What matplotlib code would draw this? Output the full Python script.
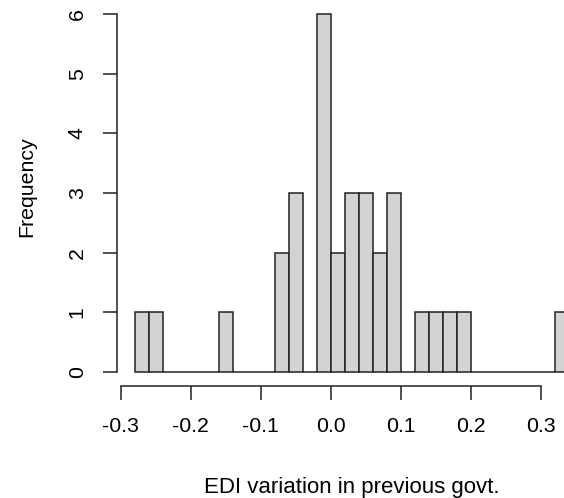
import matplotlib
matplotlib.use("Agg")
from matplotlib import pyplot as plt

# histogram of EDI variation, bins of width 0.02
bin_left = [-0.28, -0.26, -0.24, -0.22, -0.20, -0.18, -0.16, -0.14, -0.12, -0.10,
            -0.08, -0.06, -0.04, -0.02, 0.00, 0.02, 0.04, 0.06, 0.08, 0.10,
            0.12, 0.14, 0.16, 0.18, 0.20, 0.22, 0.24, 0.26, 0.28, 0.30, 0.32]
counts = [1, 1, 0, 0, 0, 0, 1, 0, 0, 0,
          2, 3, 0, 6, 2, 3, 3, 2, 3, 0,
          1, 1, 1, 1, 0, 0, 0, 0, 0, 0, 1]
bin_width = 0.02

x_ticks = [-0.3, -0.2, -0.1, 0.0, 0.1, 0.2, 0.3]
x_tick_labels = ["-0.3", "-0.2", "-0.1", "0.0", "0.1", "0.2", "0.3"]
y_ticks = [0, 1, 2, 3, 4, 5, 6]

plt.rcParams["font.family"] = ["Liberation Sans", "DejaVu Sans"]

fig = plt.figure(figsize=(5.64, 4.98), dpi=100)
ax = fig.add_axes([0.208, 0.2239, 0.831, 0.7767])

ax.bar(bin_left, counts, width=bin_width, align="edge",
       color="#d3d3d3", edgecolor="#222222", linewidth=1.1)

ax.set_xlim(-0.3048, 0.3648)
ax.set_ylim(-0.24, 6.24)

for side in ["top", "right"]:
    ax.spines[side].set_visible(False)
ax.spines["left"].set_bounds(0, 6)
ax.spines["bottom"].set_bounds(-0.3, 0.3)
for side in ["left", "bottom"]:
    ax.spines[side].set_linewidth(1.1)
    ax.spines[side].set_color("#222222")

ax.set_xticks(x_ticks)
ax.set_xticklabels(x_tick_labels)
ax.set_yticks(y_ticks)
ax.tick_params(axis="both", direction="out", length=10, width=1.1,
               color="#222222", labelsize=15.3, pad=12)
ax.tick_params(axis="y", labelrotation=90)
for lab in ax.get_yticklabels():
    lab.set_va("center")

fig.text(352 / 564, 1 - 487 / 498, "EDI variation in previous govt.",
         ha="center", va="center", fontsize=16)
fig.text(27 / 564, 1 - 186.5 / 498, "Frequency", rotation=90,
         ha="center", va="center", fontsize=15.3)

fig.savefig("out.png", dpi=100)
